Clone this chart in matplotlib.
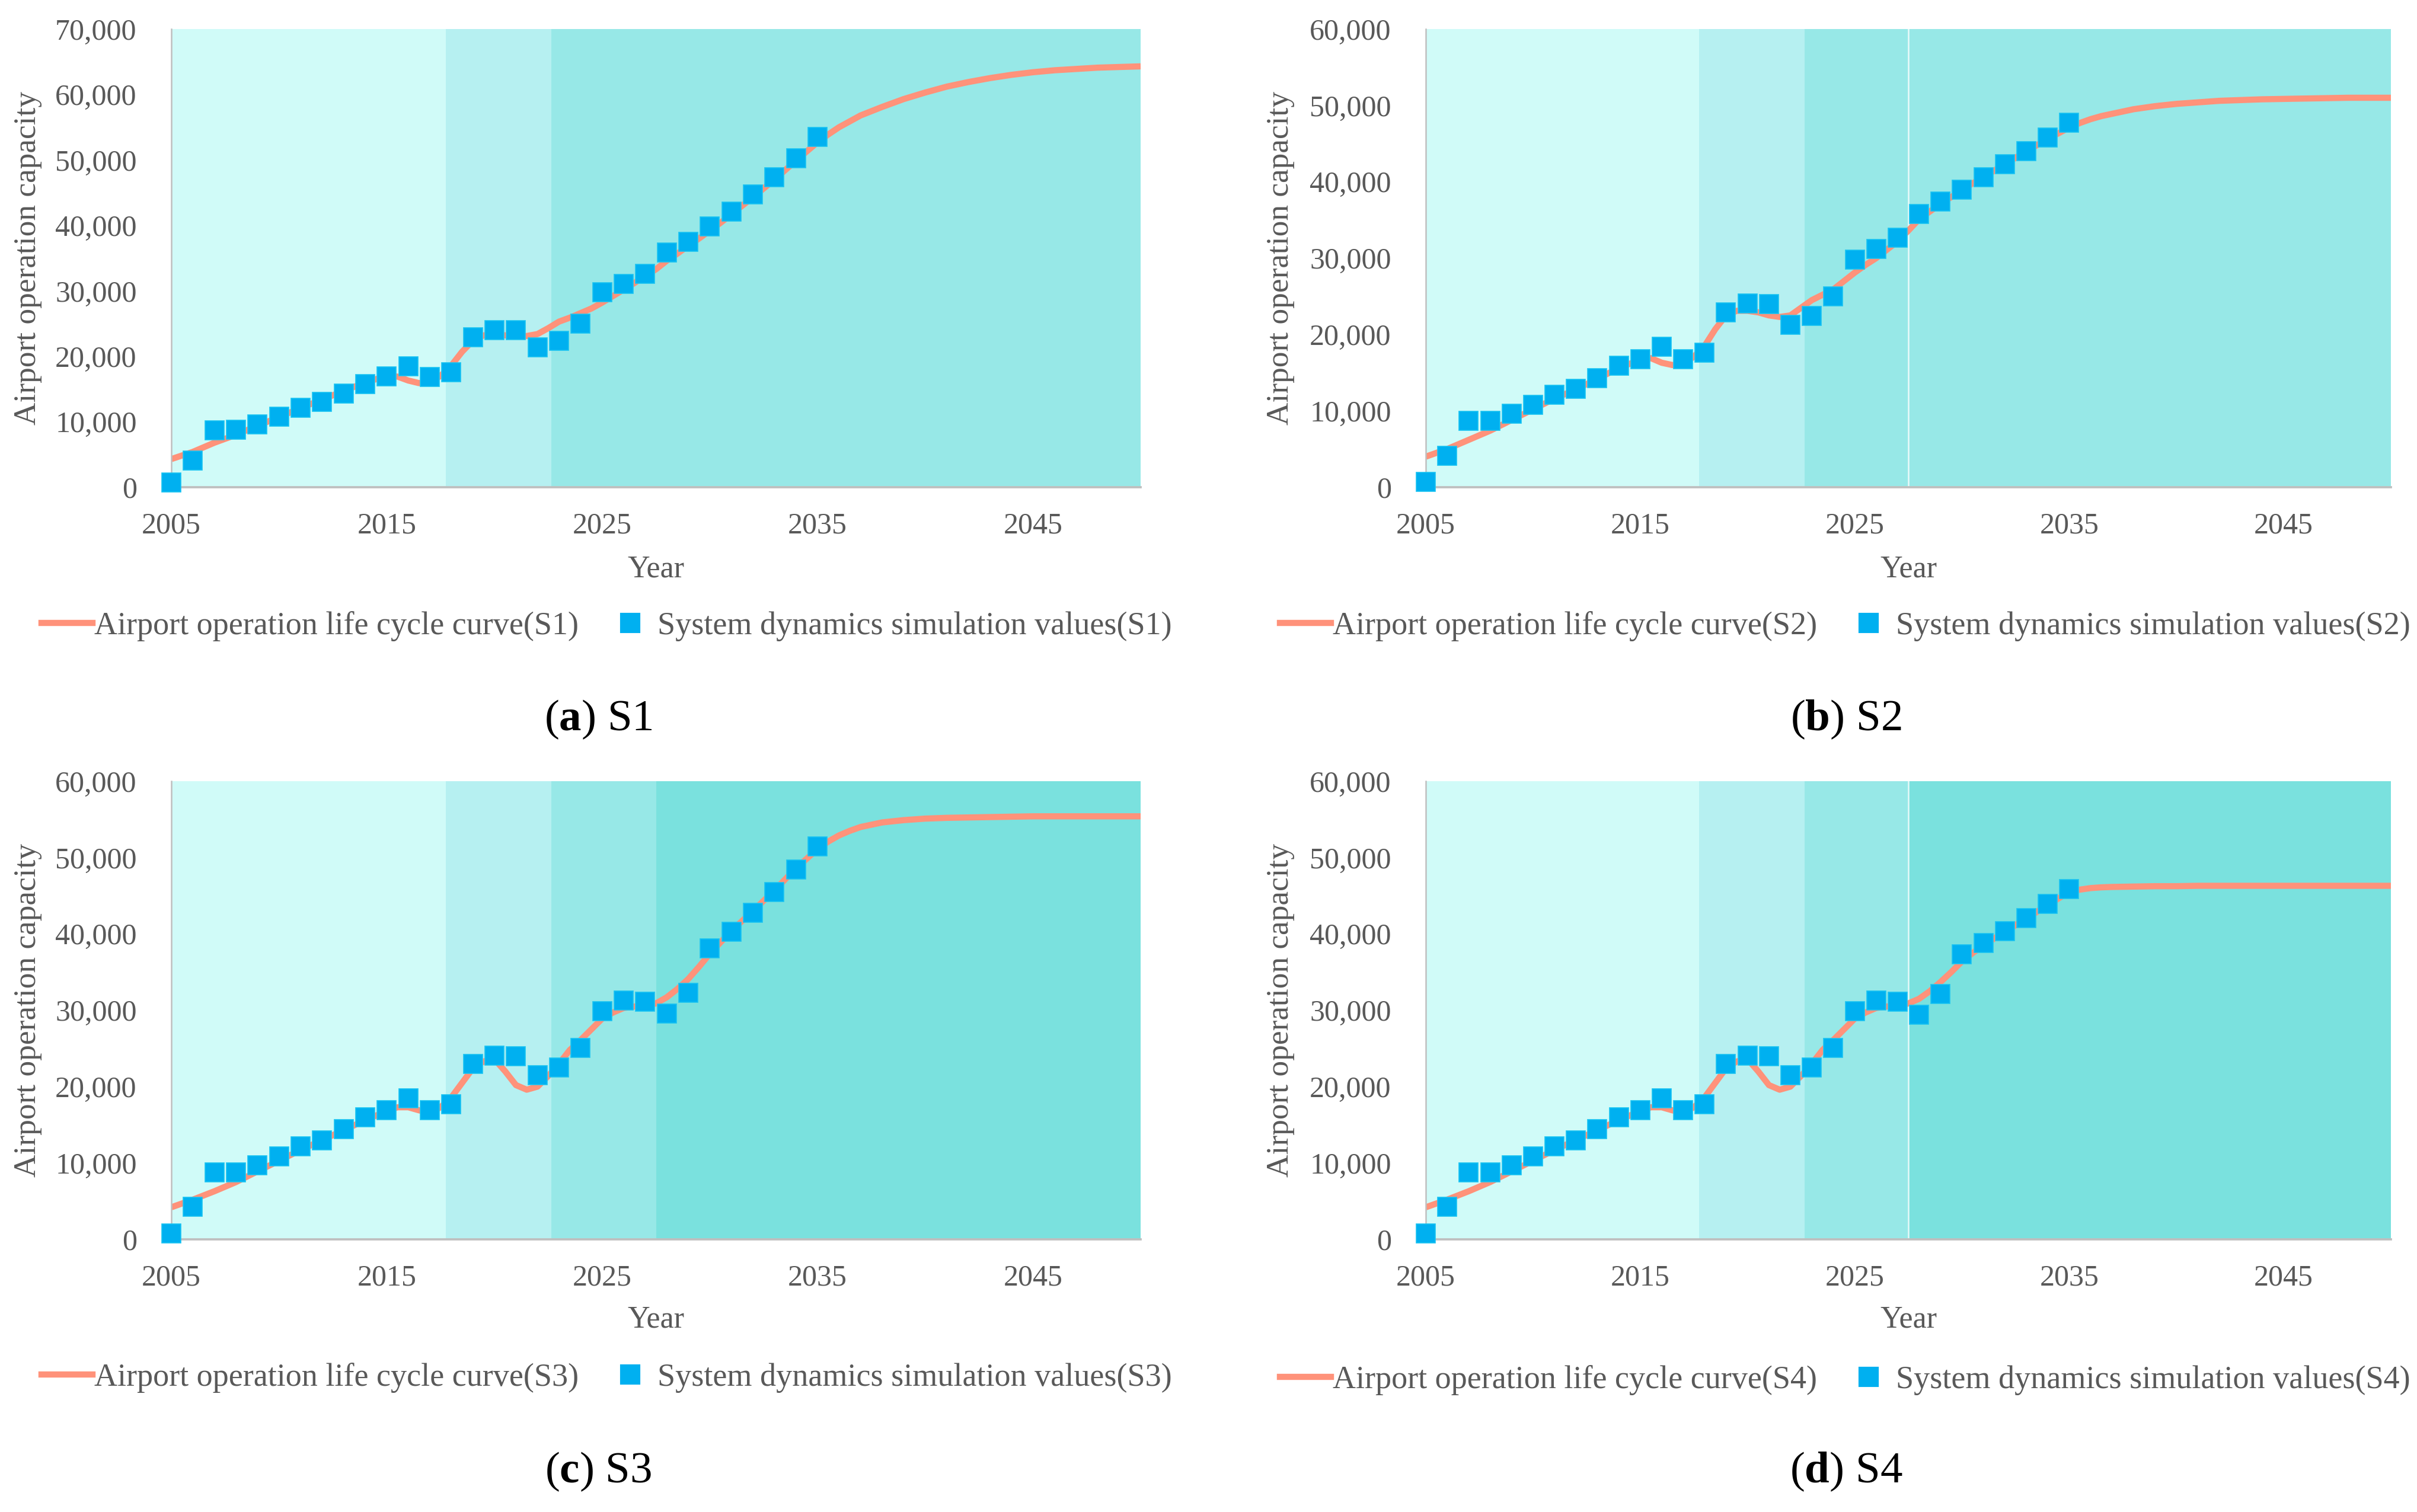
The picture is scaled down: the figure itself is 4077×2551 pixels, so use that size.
import matplotlib
matplotlib.use("Agg")
import matplotlib.pyplot as plt
from matplotlib.lines import Line2D

plt.rcParams['font.family'] = ['Liberation Serif', 'DejaVu Serif']
plt.rcParams['mathtext.fontset'] = 'custom'
plt.rcParams['mathtext.rm'] = 'Liberation Serif'
plt.rcParams['mathtext.bf'] = 'Liberation Serif:bold'

# ---------------- data ----------------
sim_years = list(range(2005, 2036))

sim_S1 = [700, 4100, 8700, 8800, 9600, 10800, 12100, 13000, 14300, 15800, 16900, 18500, 16800, 17600,
          22900, 24000, 24000, 21400, 22400, 25000, 29800, 31100, 32600, 35900, 37500, 39800, 42100,
          44700, 47400, 50300, 53500]
sim_S2 = [670, 4100, 8700, 8700, 9600, 10800, 12100, 12900, 14300, 15900, 16800, 18400, 16800, 17600,
          22900, 24100, 24000, 21300, 22400, 25000, 29800, 31200, 32700, 35800, 37400, 39000, 40600,
          42300, 44000, 45800, 47700]
sim_S3 = [800, 4300, 8800, 8800, 9700, 10900, 12200, 13000, 14400, 16000, 16900, 18500, 16900, 17700,
          23000, 24100, 24000, 21500, 22500, 25100, 29900, 31300, 31100, 29600, 32300, 38100, 40300,
          42800, 45500, 48400, 51500]
sim_S4 = [800, 4300, 8800, 8800, 9700, 10900, 12200, 13000, 14400, 16000, 16900, 18500, 16900, 17700,
          23000, 24100, 24000, 21500, 22500, 25100, 29900, 31300, 31100, 29400, 32100, 37300, 38800,
          40400, 42100, 43900, 45900]

curve_years = [2005, 2006, 2007, 2008, 2009, 2010, 2011, 2012, 2013, 2014,
               2015, 2015.5, 2016, 2016.5, 2017, 2017.5, 2018, 2018.5, 2019, 2019.5,
               2020, 2020.5, 2021, 2021.5, 2022, 2022.5, 2023, 2023.5, 2024, 2024.5,
               2025, 2025.5, 2026, 2026.5, 2027, 2027.5, 2028, 2028.5, 2029, 2029.5,
               2030, 2030.5, 2031, 2032, 2033, 2034, 2035, 2035.5, 2036, 2036.5, 2037, 2038, 2039,
               2040, 2041, 2042, 2043, 2044, 2045, 2046, 2047, 2048, 2049, 2050]

curve_S1 = [4300, 5400, 6800, 8000, 9400, 10700, 12100, 13400, 14700, 16000,
            17000, 16900, 16300, 15900, 16100, 17000, 18600, 20700, 22400, 23200,
            23300, 23200, 23100, 23100, 23400, 24300, 25300, 25900, 26600, 27300,
            28200, 29200, 30200, 31200, 32300, 33300, 34600, 35700, 36900, 38000,
            39200, 40400, 41700, 44300, 47000, 49900, 52700, 53900, 55000, 55900, 56800, 58100, 59300,
            60300, 61200, 61900, 62500, 63000, 63400, 63700, 63900, 64100, 64200, 64300]
curve_S2 = [4000, 5000, 6200, 7400, 8800, 10200, 11600, 12800, 14200, 15600,
            16700, 16900, 16300, 16000, 16100, 17100, 18500, 20700, 22500, 23100,
            23100, 22900, 22500, 22300, 22500, 23500, 24500, 25200, 25900, 27000,
            28100, 29100, 30000, 31100, 32200, 33600, 35100, 36100, 37100, 38000,
            38900, 39800, 40600, 42300, 44000, 45600, 47100, 47700, 48200, 48600, 48900, 49500, 49900,
            50200, 50400, 50600, 50700, 50800, 50850, 50900, 50950, 51000, 51000, 51000]
curve_S3 = [4200, 5200, 6300, 7500, 8900, 10300, 11700, 13000, 14300, 15600,
            16800, 17300, 17300, 16900, 16600, 17300, 18600, 20500, 22400, 23300,
            23600, 22000, 20200, 19600, 20000, 21400, 23000, 24800, 26100, 27500,
            28900, 29700, 30300, 30500, 30500, 30900, 31700, 32800, 34100, 35700,
            37400, 38900, 40400, 43000, 45700, 48600, 51100, 52100, 52900, 53500, 54000, 54600, 54900,
            55100, 55200, 55250, 55300, 55350, 55400, 55400, 55400, 55400, 55400, 55400]
curve_S4 = [4200, 5200, 6300, 7500, 8900, 10300, 11700, 13000, 14300, 15600,
            16800, 17300, 17300, 16900, 16600, 17300, 18600, 20500, 22400, 23300,
            23600, 22000, 20200, 19600, 20000, 21400, 23000, 24800, 26100, 27500,
            28900, 29700, 30300, 30500, 30500, 30900, 31500, 32500, 33700, 35000,
            36400, 37500, 38500, 40300, 42000, 43800, 45500, 45800, 46000, 46100, 46150, 46200, 46250,
            46250, 46300, 46300, 46300, 46300, 46300, 46300, 46300, 46300, 46300, 46300]

phase_bounds = [2005, 2017.75, 2022.65, 2027.5, 2050]
phase_colors_ab = ['#D0FBF8', '#B6F0F1', '#97E8E7', '#97E8E7']
phase_colors_cd = ['#D0FBF8', '#B6F0F1', '#97E8E7', '#7AE1DE']

panels = [
    dict(name='S1', letter='a', sim=sim_S1, curve=curve_S1, ymax=70000, colors=phase_colors_ab, sep=False),
    dict(name='S2', letter='b', sim=sim_S2, curve=curve_S2, ymax=60000, colors=phase_colors_ab, sep=True),
    dict(name='S3', letter='c', sim=sim_S3, curve=curve_S3, ymax=60000, colors=phase_colors_cd, sep=False),
    dict(name='S4', letter='d', sim=sim_S4, curve=curve_S4, ymax=60000, colors=phase_colors_cd, sep=True),
]

x_ticks = [2005, 2015, 2025, 2035, 2045]

# ---------------- layout ----------------
W, H = 4077, 2551
fig = plt.figure(figsize=(W / 300, H / 300), dpi=300)

ax_px = [  # left, right, top, bottom in pixels
    (289, 1924, 49, 822),
    (2405, 4033, 49, 822),
    (289, 1924, 1318, 2091),
    (2405, 4033, 1318, 2091),
]
ylabel_x = [47, 2160, 47, 2160]
xlabel_y = [960, 960, 2226, 2226]
legend_y = [1056, 1056, 2324, 2328]
legend_cx = [1023, 3112, 1023, 3112]
caption_cx = [1009, 3114, 1009, 3114]
caption_y = [1214, 1214, 2483, 2483]

LINE_C = '#FF927A'
MARK_C = '#00B0F0'
TXT_C = '#595959'

for i, p in enumerate(panels):
    l, r, t, b = ax_px[i]
    ax = fig.add_axes([l / W, 1 - b / H, (r - l) / W, (b - t) / H])
    # stacked spans (each runs to the end) to avoid anti-aliasing seams
    for k in range(4):
        ax.axvspan(phase_bounds[k], phase_bounds[-1], color=p['colors'][k], lw=0, zorder=0)
    if p['sep']:
        ax.axvline(phase_bounds[3], color='white', lw=0.6, alpha=0.8, zorder=0.5)
    ax.plot(curve_years, p['curve'], color=LINE_C, lw=2.5, solid_capstyle='butt',
            solid_joinstyle='round', zorder=2)
    ax.plot(sim_years, p['sim'], linestyle='none', marker='s', markersize=7.6,
            markerfacecolor=MARK_C, markeredgecolor='#19C3F2', markeredgewidth=0.4,
            zorder=3, clip_on=False)
    ax.set_xlim(2005, 2050)
    ax.set_ylim(0, p['ymax'])
    ax.set_xticks(x_ticks)
    ax.set_xticklabels([str(v) for v in x_ticks])
    yt = list(range(0, p['ymax'] + 1, 10000))
    ax.set_yticks(yt)
    ax.set_yticklabels([f'{v:,}' for v in yt])
    ax.tick_params(axis='both', length=0, labelsize=12, colors=TXT_C)
    ax.tick_params(axis='x', pad=10)
    ax.tick_params(axis='y', pad=14)
    for s in ['top', 'right']:
        ax.spines[s].set_visible(False)
    ax.spines['left'].set_color('#BFBFBF')
    ax.spines['left'].set_linewidth(0.6)
    ax.spines['bottom'].set_color('#BFBFBF')
    ax.spines['bottom'].set_linewidth(0.9)
    ax.set_facecolor('white')

    fig.text(ylabel_x[i] / W, 1 - (t + b) / 2 / H, 'Airport operation capacity', rotation=90,
             ha='center', va='center', fontsize=12.8, color=TXT_C)
    fig.text((l + r) / 2 / W, 1 - xlabel_y[i] / H, 'Year', ha='center', va='center',
             fontsize=12.5, color=TXT_C)

    handles = [Line2D([], [], color=LINE_C, lw=2.5),
               Line2D([], [], linestyle='none', marker='s', markersize=7,
                      markerfacecolor=MARK_C, markeredgecolor=MARK_C)]
    labels = [f'Airport operation life cycle curve({p["name"]})',
              f'System dynamics simulation values({p["name"]})']
    leg = fig.legend(handles, labels, loc='center', ncol=2, frameon=False,
                     bbox_to_anchor=(legend_cx[i] / W, 1 - legend_y[i] / H),
                     fontsize=13, handlelength=1.6, handletextpad=0.05, columnspacing=0.8,
                     borderpad=0, borderaxespad=0)
    for txt in leg.get_texts():
        txt.set_color(TXT_C)

    fig.text(caption_cx[i] / W, 1 - caption_y[i] / H,
             r'(' + r'$\mathbf{' + p['letter'] + r'}$' + r') ' + p['name'],
             ha='center', va='center', fontsize=18, color='black')

fig.savefig('out.png', dpi=300, facecolor='white')
